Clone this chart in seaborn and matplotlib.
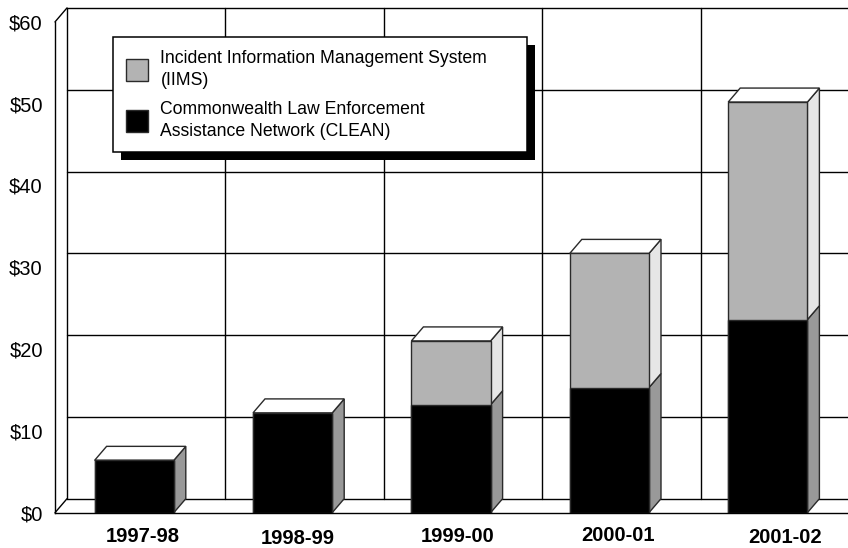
import numpy as np
import pandas as pd
import matplotlib
matplotlib.use('Agg')
import matplotlib.pyplot as plt
import matplotlib.transforms as mtransforms
from matplotlib.patches import Polygon, Patch, Rectangle
from matplotlib.ticker import MultipleLocator
import seaborn as sns

# ---- data ----
years = ['1997-98', '1998-99', '1999-00', '2000-01', '2001-02']
clean = [6.4, 12.2, 13.2, 15.3, 23.6]
iims = [0.0, 0.0, 7.8, 16.4, 26.6]
y_ticks = [0, 10, 20, 30, 40, 50, 60]
y_tick_labels = [r'\$0', r'\$10', r'\$20', r'\$30', r'\$40', r'\$50', r'\$60']
legend_labels = ['Incident Information Management System\n(IIMS)',
                 'Commonwealth Law Enforcement\nAssistance Network (CLEAN)']

# layout-only nudges of the category labels (pixels)
label_shift_x = [9, 5, 7, 9, 17]
label_shift_y = [0, 2, 0, -1, 1]

sns.set_style('white')
plt.rcParams['font.family'] = ['Liberation Sans', 'DejaVu Sans']

W, H = 848, 548
fig = plt.figure(figsize=(W / 100, H / 100), dpi=100)
x0px, x1px = 55, 848
ybot, ytop = 512.7, 21.9
ax = fig.add_axes([x0px / W, 1 - ybot / H, (x1px - x0px) / W, (ybot - ytop) / H])

df = pd.DataFrame({'year': years, 'clean': clean,
                   'total': np.add(clean, iims)})

GRAY = '#b3b3b3'
GRAY_SIDE = '#e6e6e6'
BLACK_SIDE = '#999999'
EDGE = '#2a2a2a'

sns.barplot(data=df, x='year', y='total', color=GRAY, width=0.5, saturation=1,
            edgecolor=EDGE, linewidth=1, errorbar=None, zorder=3, ax=ax)
sns.barplot(data=df, x='year', y='clean', color='black', width=0.5, saturation=1,
            edgecolor=EDGE, linewidth=1, errorbar=None, zorder=3.1, ax=ax)

cat_px = 158.4
xmax = -0.5 + (x1px - x0px) / cat_px
ax.set_xlim(-0.5, xmax)
ax.set_ylim(0, 60)
ppu = (ybot - ytop) / 60
dx = 12 / cat_px
dy = 14 / ppu
ax.set_xlabel('')
ax.set_ylabel('')

# ---- 3D sides / tops of bars ----
n = len(years)
gray_patches = ax.patches[:n]
black_patches = ax.patches[n:2 * n]
for pg, pb in zip(gray_patches, black_patches):
    xl = pg.get_x()
    xr = xl + pg.get_width()
    t = pg.get_height()
    c = pb.get_height()
    ax.add_patch(Polygon([(xr, 0), (xr + dx, dy), (xr + dx, c + dy), (xr, c)],
                         closed=True, facecolor=BLACK_SIDE, edgecolor=EDGE,
                         linewidth=1, zorder=2.9))
    if t > c:
        ax.add_patch(Polygon([(xr, c), (xr + dx, c + dy), (xr + dx, t + dy), (xr, t)],
                             closed=True, facecolor=GRAY_SIDE, edgecolor=EDGE,
                             linewidth=1, zorder=2.9))
    ax.add_patch(Polygon([(xl, t), (xr, t), (xr + dx, t + dy), (xl + dx, t + dy)],
                         closed=True, facecolor='white', edgecolor=EDGE,
                         linewidth=1, zorder=2.9))

# ---- back wall and floor ----
lk = dict(color='black', linewidth=1, clip_on=False, zorder=1)
right_end = xmax + 1
bounds = np.arange(n + 1) - 0.5
for v in y_ticks[1:]:
    ax.plot([-0.5 + dx, right_end], [v + dy, v + dy], **lk)
for b in bounds:
    ax.plot([b + dx, b + dx], [dy, 60 + dy], **lk)
ax.plot([-0.5 + dx, right_end], [dy, dy], **lk)
ax.plot([-0.5, -0.5 + dx], [0, dy], **lk)
ax.plot([-0.5, -0.5 + dx], [60, 60 + dy], **lk)

# ---- axes, ticks ----
for s in ['top', 'right']:
    ax.spines[s].set_visible(False)
for s in ['left', 'bottom']:
    ax.spines[s].set_color('black')
    ax.spines[s].set_linewidth(1)
    ax.spines[s].set_zorder(4)

ax.set_yticks(y_ticks, y_tick_labels)
ax.yaxis.set_minor_locator(MultipleLocator(2))
ax.tick_params(axis='y', which='major', direction='out', length=5.8, width=1,
               color='black', labelsize=14.5, pad=3, labelcolor='black')
ax.tick_params(axis='y', which='minor', direction='out', length=3, width=1,
               color='black')

ax.set_xticks(bounds, [''] * len(bounds))
ax.set_xticks(range(n), years, minor=True)
ax.tick_params(axis='x', which='major', direction='out', length=6.5, width=1,
               color='black')
ax.tick_params(axis='x', which='minor', length=0, labelsize=14.5, pad=10.5,
               labelcolor='black')
for lab, sx, sy in zip(ax.get_xticklabels(minor=True), label_shift_x, label_shift_y):
    lab.set_fontweight('bold')
    lab.set_transform(lab.get_transform() +
                      mtransforms.ScaledTranslation(sx / 100, -sy / 100,
                                                    fig.dpi_scale_trans))

# ---- legend ----
handles = [Patch(facecolor=GRAY, edgecolor=EDGE, linewidth=1),
           Patch(facecolor='black', edgecolor=EDGE, linewidth=1)]
leg = ax.legend(handles, legend_labels, loc='upper left',
                bbox_to_anchor=(113 / W, 1 - 152 / H, 414 / W, 115 / H),
                bbox_transform=fig.transFigure, mode='expand', borderaxespad=0,
                fontsize=12.7, frameon=True, fancybox=False, edgecolor='black',
                framealpha=1, borderpad=0.72, labelspacing=0.66,
                handlelength=1.25, handleheight=1.54, handletextpad=0.72,
                labelcolor='black')
for t in leg.get_texts():
    t.set_linespacing(1.4)
leg.get_frame().set_linewidth(1.1)
leg.set_zorder(10)

fig.canvas.draw()
bb = leg.get_window_extent()
shadow = Rectangle((bb.x0 + 8, bb.y0 - 8), bb.width, bb.height,
                   transform=mtransforms.IdentityTransform(),
                   facecolor='black', edgecolor='none', zorder=9, clip_on=False)
ax.add_artist(shadow)

fig.savefig('out.png', dpi=100)
